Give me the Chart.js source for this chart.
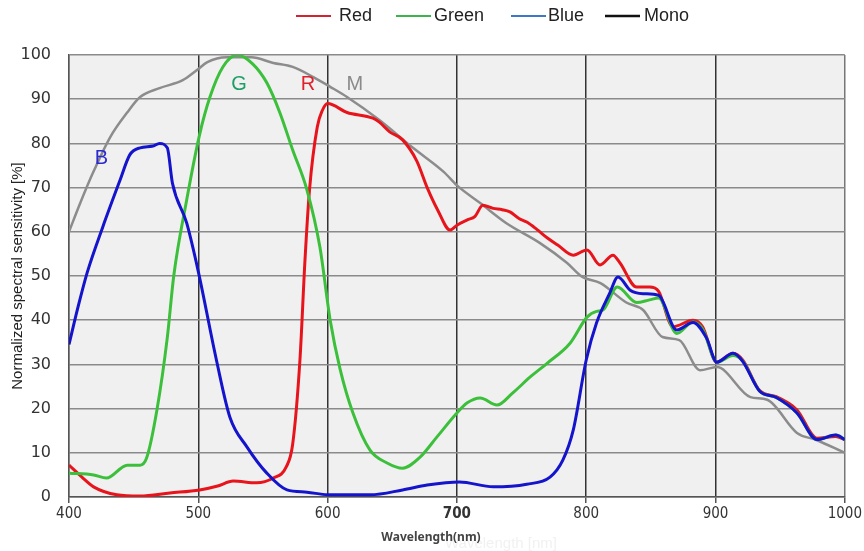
<!DOCTYPE html>
<html>
<head>
<meta charset="utf-8">
<script src="https://cdn.jsdelivr.net/npm/chart.js@4.4.0/dist/chart.umd.min.js"></script>
<style>
  html, body { margin: 0; padding: 0; background: #fff; }
  canvas { display: block; }
</style>
</head>
<body>
<canvas id="chart" width="864" height="551"></canvas>
<script>
// wavelength ticks / value ticks
const xTicks = [400, 500, 600, 700, 800, 900, 1000];
const yTicks = [0, 10, 20, 30, 40, 50, 60, 70, 80, 90, 100];

// Mono
const monoWl  = [400, 408, 418, 432, 445, 455, 470, 488, 499, 507, 522, 541, 558, 573, 589, 602, 615, 640, 666, 690, 700, 718, 738, 764, 785, 797, 811, 831, 844, 859, 872, 888, 901, 927, 940, 963, 978, 1000];
const monoVal = [60, 66, 73, 81.5, 87, 90.5, 92.5, 94.3, 96.6, 98.4, 99.5, 99.5, 98.2, 97.3, 95, 92.8, 90.5, 85.3, 79, 73.5, 70.5, 66.5, 62, 57.5, 53, 49.8, 48.4, 44, 42.3, 36.2, 35.5, 28.7, 29.4, 22.6, 22, 14.5, 12.9, 10];

// Red
const redWl  = [400, 410, 419, 437, 455, 478, 501, 515, 527, 545, 558, 568, 573, 578.6, 582.5, 586, 592, 596, 600, 615, 635, 640, 648, 658, 669, 677, 685, 694.7, 700, 708, 714, 720, 728, 735, 741, 748, 754, 762, 770, 778, 790, 800.6, 810.7, 820.7, 826, 839, 849, 856, 867, 882.6, 890, 901, 913.5, 921, 934.4, 947, 963, 978.5, 993, 1000];
const redVal = [7.2, 4.5, 2.3, 0.5, 0.2, 0.9, 1.6, 2.5, 3.6, 3.2, 4.3, 6.8, 12, 31, 53.6, 69.5, 83.7, 87.5, 89, 87, 85.7, 84.8, 82.6, 80.8, 76, 70, 65, 60.4, 61.5, 62.7, 63.5, 66, 65.3, 65, 64.5, 63, 62.2, 60.5, 58.6, 57, 54.7, 55.9, 52.5, 54.7, 53, 47.5, 47.5, 46.5, 38.5, 40, 38.5, 30.5, 32.5, 31, 24, 22.7, 19.7, 13.3, 13.7, 13];

// Green
const greenWl  = [400, 419, 429, 445, 455, 460, 468, 476, 481, 491, 501, 509, 519, 530, 542, 553, 563, 573, 584, 594, 602, 609.6, 619.6, 632.8, 646, 658, 671.5, 684.6, 700, 708, 718, 731, 743, 756.5, 770, 787.5, 800.6, 808, 813, 824, 839, 849, 856, 870, 882.6, 890, 901, 913.5, 921, 934, 947, 963, 978.5, 993, 1000];
const greenVal = [5.4, 5, 4.3, 7.2, 7.2, 8.8, 19.7, 36, 50, 67.2, 82, 90.5, 97.3, 100, 98, 93.7, 87, 78.5, 69.5, 56.6, 40, 29, 19, 10.6, 7.7, 6.5, 9, 13.6, 19, 21.3, 22.4, 20.8, 23.5, 27.1, 30.3, 34.8, 40.7, 42, 42.3, 47.5, 44, 44.6, 45, 37, 39.6, 38, 30.5, 32, 30.8, 24, 22.5, 19, 13, 14, 13];

// Blue
const blueWl  = [400, 407, 414, 426, 439.5, 447, 455, 465, 470, 476, 480, 491, 500, 514, 524.5, 537.7, 553, 568.6, 584, 600, 633, 658, 677, 702, 728, 754, 772, 782, 790, 800, 808, 818, 824.6, 834, 844, 856, 870, 882.6, 893, 901, 913.5, 921, 934, 947, 963, 978.5, 993, 1000];
const blueVal = [34.5, 43, 50.7, 61, 71.7, 77.4, 79, 79.4, 80, 79, 71, 62, 51, 31, 18, 11.3, 5.4, 1.6, 1.1, 0.5, 0.5, 1.6, 2.7, 3.4, 2.3, 2.9, 4.5, 8.4, 15.2, 31, 39.4, 46, 49.8, 46.8, 46, 45.6, 37.8, 39.5, 36, 30.5, 32.5, 30.7, 24, 22.5, 19, 13, 14, 13];

const seriesNames = ['Red', 'Green', 'Blue', 'Mono'];
const legendColors = ['#d42233', '#3cb44e', '#3a78c8', '#111111'];

// curve letters and where they sit (data coordinates)
const curveLabels = [
  { text: 'B', x: 425, y: 76.5, color: '#2a2ad0' },
  { text: 'G', x: 531.5, y: 93.4, color: '#1d9e66' },
  { text: 'R', x: 584.8, y: 93.4, color: '#e0202a' },
  { text: 'M', x: 621, y: 93.4, color: '#8a8a8a' }
];

function pts(xs, ys) {
  return xs.map((x, i) => ({ x: x, y: ys[i] }));
}

const plotBg = {
  id: 'plotBg',
  beforeDraw(chart) {
    const { ctx, chartArea: a } = chart;
    ctx.save();
    ctx.fillStyle = '#f0f0f0';
    ctx.fillRect(a.left, a.top, a.right - a.left, a.bottom - a.top);
    ctx.restore();
  }
};

const extras = {
  id: 'extras',
  afterDraw(chart) {
    const ctx = chart.ctx;
    const xs = chart.scales.x, ys = chart.scales.y;
    ctx.save();

    // curve letters
    ctx.font = '20px "Liberation Sans", Arial, sans-serif';
    ctx.textAlign = 'center';
    ctx.textBaseline = 'middle';
    curveLabels.forEach(l => {
      ctx.fillStyle = l.color;
      ctx.fillText(l.text, xs.getPixelForValue(l.x), ys.getPixelForValue(l.y));
    });

    // legend
    const lineX = [296, 396, 511, 605];
    const textX = [339, 434, 548, 644];
    ctx.font = '18px "Liberation Sans", Arial, sans-serif';
    ctx.textAlign = 'left';
    ctx.textBaseline = 'middle';
    seriesNames.forEach((name, i) => {
      ctx.strokeStyle = legendColors[i];
      ctx.lineWidth = i === 3 ? 2.5 : 2;
      ctx.beginPath();
      ctx.moveTo(lineX[i], 16);
      ctx.lineTo(lineX[i] + 35, 16);
      ctx.stroke();
      ctx.fillStyle = '#222';
      ctx.fillText(name, textX[i], 16);
    });

    // x axis title (with faint ghost behind)
    ctx.textAlign = 'left';
    ctx.font = '15px "Liberation Sans", Arial, sans-serif';
    ctx.fillStyle = '#f1f1f1';
    ctx.fillText('Wavelength [nm]', 445, 544);
    ctx.font = 'bold 12px "Noto Sans", "Open Sans", sans-serif';
    ctx.fillStyle = '#444';
    ctx.textAlign = 'center';
    ctx.fillText('Wavelength(nm)', 431, 538);
    ctx.restore();
  }
};

const ctx = document.getElementById('chart').getContext('2d');
const chart = new Chart(ctx, {
  type: 'line',
  data: {
    datasets: [
      { label: 'Blue', data: pts(blueWl, blueVal), borderColor: '#1414cc', borderWidth: 3, order: 0 },
      { label: 'Green', data: pts(greenWl, greenVal), borderColor: '#3cc03c', borderWidth: 3, order: 1 },
      { label: 'Red', data: pts(redWl, redVal), borderColor: '#e8141c', borderWidth: 3, order: 2 },
      { label: 'Mono', data: pts(monoWl, monoVal), borderColor: '#8c8c8c', borderWidth: 2.5, order: 3 }
    ]
  },
  options: {
    responsive: false,
    animation: false,
    devicePixelRatio: 1,
    layout: { padding: { top: 55, right: 19, left: 0, bottom: 0 } },
    elements: {
      point: { radius: 0 },
      line: { cubicInterpolationMode: 'monotone', fill: false }
    },
    plugins: {
      legend: { display: false },
      tooltip: { enabled: false }
    },
    scales: {
      x: {
        type: 'linear',
        min: xTicks[0],
        max: xTicks[xTicks.length - 1],
        afterBuildTicks: s => { s.ticks = xTicks.map(v => ({ value: v })); },
        afterFit: s => { s.height = 54; },
        grid: {
          color: c => (c.tick && (c.tick.value === 400 || c.tick.value === 1000)) ? '#777' : '#333',
          lineWidth: 1.5,
          tickLength: 6,
          tickColor: '#555'
        },
        border: { color: '#555', width: 1.5 },
        ticks: {
          padding: 2,
          color: '#333',
          callback: v => String(v),
          font: c => ({
            family: '"Liberation Sans Narrow", "DejaVu Sans Condensed", Arial, sans-serif',
            size: 15,
            weight: c.tick && c.tick.value === 700 ? 'bold' : 'normal'
          })
        }
      },
      y: {
        min: yTicks[0],
        max: yTicks[yTicks.length - 1],
        afterBuildTicks: s => { s.ticks = yTicks.map(v => ({ value: v })); },
        afterFit: s => { s.width = 69; },
        grid: { color: '#8a8a8a', lineWidth: 1.5, drawTicks: false },
        border: { color: '#555', width: 1.5 },
        ticks: {
          padding: 18,
          color: '#333',
          callback: v => String(v),
          font: { family: '"DejaVu Sans", Arial, sans-serif', size: 16 }
        },
        title: {
          display: true,
          text: 'Normalized spectral sensitivity [%]',
          color: '#222',
          font: { family: '"Liberation Sans", Arial, sans-serif', size: 15 },
          padding: { top: 9, bottom: 0 }
        }
      }
    }
  },
  plugins: [plotBg, extras]
});
</script>
</body>
</html>
